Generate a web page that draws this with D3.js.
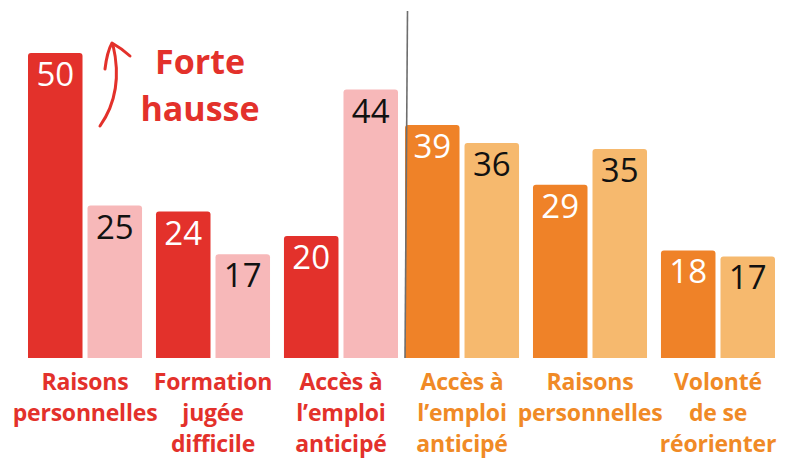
<!DOCTYPE html>
<html>
<head>
<meta charset="utf-8">
<script src="https://cdn.jsdelivr.net/npm/d3@7"></script>
<style>
    body { margin: 0; background: #fff; }
    svg { display: block; font-family: "Open Sans", sans-serif; }
</style>
</head>
<body>
<div class="chart"></div>
<script>
// left panel (red) / right panel (orange)
const labelsLeft = [["Raisons", "personnelles"], ["Formation", "jugée", "difficile"], ["Accès à", "l’emploi", "anticipé"]];
const labelsRight = [["Accès à", "l’emploi", "anticipé"], ["Raisons", "personnelles"], ["Volonté", "de se", "réorienter"]];
const seriesKeys = ["avant", "apres"];
const leftAvant = [50, 24, 20];
const leftApres = [25, 17, 44];
const rightAvant = [39, 29, 18];
const rightApres = [36, 35, 17];
const annotation = ["Forte", "hausse"];

const dimensions = {width: 785, height: 458, baseline: 358};

const svg = d3.select('.chart').append('svg')
    .attr('width', dimensions.width)
    .attr('height', dimensions.height);

// bar with rounded top corners only
const barPath = (x, y, w, h, r) => {
    r = Math.min(r, h);
    return `M${x},${y + h}V${y + r}Q${x},${y} ${x + r},${y}H${x + w - r}Q${x + w},${y} ${x + w},${y + r}V${y + h}Z`;
}

function drawPanel(opts) {
    const x = d3.scaleBand()
        .domain(d3.range(opts.labels.length))
        .range(opts.xRange)
        .paddingInner(0.109)
        .paddingOuter(0.0547);

    const xInner = d3.scaleBand()
        .domain(seriesKeys)
        .range([0, x.bandwidth()])
        .paddingInner(0.084);

    const y = d3.scaleLinear()
        .domain(opts.yDomain)
        .range([dimensions.baseline, opts.yTop]);

    const rows = opts.labels.map((l, i) => ({i, values: [
        {key: seriesKeys[0], v: opts.avant[i]},
        {key: seriesKeys[1], v: opts.apres[i]}
    ]}));

    const groups = svg.append('g')
        .selectAll('g')
        .data(rows)
        .join('g')
        .attr('transform', d => `translate(${x(d.i)},0)`);

    const bars = groups.selectAll('g')
        .data(d => d.values)
        .join('g');

    bars.append('path')
        .attr('d', d => barPath(xInner(d.key), y(d.v), xInner.bandwidth(), y(0) - y(d.v), 3))
        .attr('fill', d => d.key === seriesKeys[0] ? opts.dark : opts.light);

    bars.append('text')
        .attr('x', d => xInner(d.key) + xInner.bandwidth() / 2)
        .attr('y', d => y(d.v) + 33)
        .attr('text-anchor', 'middle')
        .style('font-size', '33px')
        .attr('fill', d => d.key === seriesKeys[0] ? '#fff' : '#111')
        .text(d => d.v);

    svg.append('g')
        .attr('transform', `translate(0,${dimensions.baseline})`)
        .attr('color', opts.textColor)
        .call(d3.axisBottom(x).tickSize(0).tickSizeOuter(0))
        .call(g => g.select('.domain').remove())
        .call(g => g.selectAll('.tick text')
            .attr('dy', null)
            .attr('y', null)
            .style('font', 'bold 23px "Open Sans", sans-serif')
            .style('letter-spacing', '-0.2px')
            .text(null)
            .selectAll('tspan')
            .data(i => opts.labels[i])
            .join('tspan')
            .attr('x', 0)
            .attr('y', (d, j) => 32 + j * 31)
            .text(d => d));
}

drawPanel({
    labels: labelsLeft, avant: leftAvant, apres: leftApres,
    xRange: [21, 405], yDomain: [0, 50], yTop: 53,
    dark: '#e3312b', light: '#f7b8b9', textColor: '#e3312b'
});

drawPanel({
    labels: labelsRight, avant: rightAvant, apres: rightApres,
    xRange: [398, 782], yDomain: [0, 39], yTop: 125,
    dark: '#ef8228', light: '#f6b96e', textColor: '#f08a26'
});

// separator between the two panels
svg.append('line')
    .attr('x1', 407.5).attr('y1', 11)
    .attr('x2', 405).attr('y2', dimensions.baseline)
    .attr('stroke', '#6e6e6e')
    .attr('stroke-width', 1.6);

// hand-drawn arrow + annotation
const arrow = svg.append('g')
    .attr('fill', 'none')
    .attr('stroke', '#e3312b')
    .attr('stroke-width', 3)
    .attr('stroke-linecap', 'round')
    .attr('stroke-linejoin', 'round');
arrow.append('path').attr('d', 'M100,126 Q124,92 113,45');
arrow.append('path').attr('d', 'M105,69 Q107,52 112,43 Q121,48 130,56');

svg.append('text')
    .attr('text-anchor', 'middle')
    .attr('fill', '#e3312b')
    .style('font', 'bold 34px "Open Sans", sans-serif')
    .selectAll('tspan')
    .data(annotation)
    .join('tspan')
    .attr('x', 200)
    .attr('y', (d, i) => 74 + i * 47)
    .text(d => d);
</script>
</body>
</html>
